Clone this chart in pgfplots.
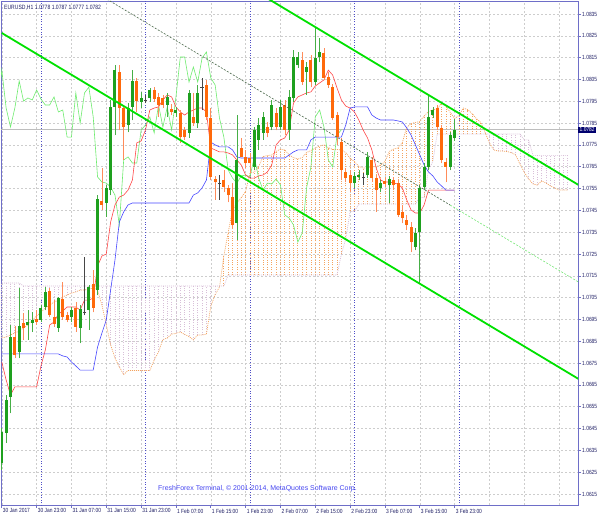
\documentclass[border=0pt]{standalone}
\usepackage{pgfplots}
\pgfplotsset{compat=1.18}
\usepackage{pgfplotstable}
\usepackage{fontspec}
\setmainfont{Liberation Sans}
\newfontfamily\narrowfont[FakeStretch=0.82]{Liberation Sans}
\definecolor{bull}{RGB}{30,160,30}
\definecolor{bullw}{RGB}{70,175,70}
\definecolor{bear}{RGB}{255,105,10}
\definecolor{bearw}{RGB}{255,140,90}
\definecolor{dojic}{RGB}{70,70,70}
\definecolor{tenkanc}{RGB}{255,70,70}
\definecolor{kijunc}{RGB}{70,70,255}
\definecolor{chikouc}{RGB}{110,235,110}
\definecolor{sandy}{RGB}{244,164,96}
\definecolor{thistlec}{RGB}{216,191,216}
\definecolor{chan}{RGB}{0,225,0}
\definecolor{midc}{RGB}{70,100,70}
\definecolor{midl}{RGB}{120,230,120}
\definecolor{framec}{RGB}{110,110,200}
\definecolor{gridc}{RGB}{205,205,205}
\definecolor{sepc}{RGB}{80,80,200}
\definecolor{txtc}{RGB}{30,30,100}
\definecolor{navyc}{RGB}{0,0,110}
\definecolor{bidc}{RGB}{190,190,190}
\definecolor{copyc}{RGB}{70,70,240}
\pgfplotsset{nomark/.style={only marks, mark=*, mark size=0pt, mark options={draw=none, fill=none}, forget plot}}

\pgfplotstableread{
i O H L C
0 1.06292 1.06453 1.06260 1.06434
1 1.06430 1.06604 1.06384 1.06581
2 1.06595 1.06925 1.06521 1.06870
3 1.06870 1.06920 1.06773 1.06787
4 1.06801 1.07094 1.06773 1.06920
5 1.06934 1.06980 1.06856 1.06911
6 1.06925 1.06993 1.06856 1.06938
7 1.06934 1.06984 1.06893 1.06948
8 1.06952 1.06993 1.06925 1.06938
9 1.06948 1.07016 1.06938 1.07003
10 1.07007 1.07099 1.06993 1.07076
11 1.07081 1.07094 1.06961 1.06970
12 1.06961 1.07039 1.06916 1.06929
13 1.06911 1.07053 1.06893 1.07048
14 1.07044 1.07122 1.06948 1.06961
15 1.06970 1.06984 1.06938 1.06948
16 1.06961 1.07007 1.06938 1.06993
17 1.07003 1.07030 1.06893 1.06916
18 1.06911 1.07016 1.06842 1.06998
19 1.06984 1.07236 1.06970 1.06984
20 1.06993 1.07108 1.06902 1.07099
21 1.07113 1.07177 1.06984 1.07003
22 1.07085 1.07520 1.07062 1.07502
23 1.07493 1.07644 1.07452 1.07475
24 1.07484 1.07566 1.07420 1.07553
25 1.07543 1.07956 1.07520 1.07924
26 1.07924 1.08116 1.07795 1.08093
27 1.08084 1.08116 1.07818 1.07919
28 1.07919 1.07933 1.07681 1.07832
29 1.07841 1.07942 1.07809 1.07919
30 1.07924 1.08093 1.07864 1.08043
31 1.08043 1.08057 1.07901 1.07951
32 1.07947 1.07993 1.07919 1.07965
33 1.07956 1.07979 1.07942 1.07956
34 1.07965 1.08011 1.07947 1.08002
35 1.08002 1.08015 1.07947 1.07960
36 1.07970 1.07988 1.07878 1.07933
37 1.07965 1.07979 1.07919 1.07933
38 1.07933 1.07988 1.07878 1.07970
39 1.07915 1.07938 1.07887 1.07901
40 1.07896 1.07924 1.07878 1.07910
41 1.07896 1.07910 1.07759 1.07786
42 1.07818 1.07832 1.07773 1.07786
43 1.07805 1.08002 1.07782 1.07988
44 1.07878 1.07988 1.07837 1.07850
45 1.07850 1.08025 1.07828 1.07988
46 1.08015 1.08057 1.07910 1.08015
47 1.08025 1.08048 1.07864 1.07878
48 1.07873 1.07919 1.07589 1.07603
49 1.07594 1.07608 1.07498 1.07580
50 1.07575 1.07612 1.07498 1.07575
51 1.07589 1.07635 1.07534 1.07557
52 1.07553 1.07566 1.07488 1.07520
53 1.07511 1.07575 1.07369 1.07383
54 1.07392 1.07887 1.07314 1.07681
55 1.07736 1.07782 1.07695 1.07695
56 1.07695 1.07727 1.07644 1.07667
57 1.07690 1.07713 1.07621 1.07667
58 1.07649 1.07832 1.07635 1.07818
59 1.07773 1.07873 1.07727 1.07841
60 1.07805 1.07901 1.07773 1.07878
61 1.07832 1.07855 1.07786 1.07805
62 1.07832 1.07956 1.07818 1.07933
63 1.07896 1.07919 1.07818 1.07832
64 1.07832 1.07956 1.07818 1.07924
65 1.07933 1.07956 1.07795 1.07818
66 1.07818 1.08002 1.07773 1.07970
67 1.07965 1.08185 1.07947 1.08153
68 1.08116 1.08176 1.08103 1.08153
69 1.08139 1.08176 1.08025 1.08038
70 1.08084 1.08130 1.07979 1.08107
71 1.08139 1.08162 1.08015 1.08038
72 1.08038 1.08286 1.08025 1.08148
73 1.08153 1.08240 1.08130 1.08176
74 1.08171 1.08194 1.08048 1.08057
75 1.08061 1.08084 1.08011 1.08025
76 1.08015 1.08029 1.07864 1.07873
77 1.07887 1.07901 1.07750 1.07786
78 1.07763 1.07782 1.07589 1.07635
79 1.07626 1.07644 1.07580 1.07598
80 1.07612 1.07635 1.07534 1.07575
81 1.07575 1.07626 1.07553 1.07608
82 1.07603 1.07635 1.07589 1.07612
83 1.07603 1.07621 1.07566 1.07603
84 1.07612 1.07718 1.07598 1.07695
85 1.07681 1.07695 1.07580 1.07598
86 1.07598 1.07612 1.07443 1.07543
87 1.07553 1.07589 1.07534 1.07575
88 1.07585 1.07598 1.07557 1.07571
89 1.07566 1.07608 1.07484 1.07594
90 1.07589 1.07603 1.07543 1.07566
91 1.07575 1.07589 1.07420 1.07429
92 1.07443 1.07475 1.07392 1.07415
93 1.07406 1.07429 1.07360 1.07383
94 1.07374 1.07397 1.07259 1.07305
95 1.07282 1.07369 1.07268 1.07346
96 1.07351 1.07566 1.07117 1.07553
97 1.07557 1.07667 1.07543 1.07649
98 1.07649 1.07979 1.07635 1.07878
99 1.07887 1.07924 1.07873 1.07910
100 1.07919 1.07933 1.07818 1.07832
101 1.07828 1.07841 1.07667 1.07681
102 1.07672 1.07690 1.07580 1.07649
103 1.07649 1.07809 1.07635 1.07795
104 1.07780 1.07870 1.07770 1.07820
}\candles

\pgfplotstableread{
i T K
0 1.06755 1.06792
1 1.06673 1.06792
2 1.06604 1.06792
3 1.06641 1.06792
4 1.06641 1.06792
5 1.06641 1.06792
6 1.06641 1.06792
7 1.06641 1.06792
8 1.06641 1.06792
9 1.06737 1.06792
10 1.06810 1.06792
11 1.06925 1.06792
12 1.06938 1.06792
13 1.06975 1.06792
14 1.06989 1.06783
15 1.07007 1.06778
16 1.07007 1.06755
17 1.07007 1.06737
18 1.06993 1.06718
19 1.07039 1.06718
20 1.07039 1.06718
21 1.07048 1.06718
22 1.07195 1.06824
23 1.07241 1.06888
24 1.07250 1.06948
25 1.07397 1.07085
26 1.07475 1.07223
27 1.07511 1.07397
28 1.07520 1.07443
29 1.07543 1.07475
30 1.07589 1.07484
31 1.07759 1.07484
32 1.07768 1.07484
33 1.07818 1.07484
34 1.07910 1.07484
35 1.07919 1.07484
36 1.07924 1.07484
37 1.07956 1.07484
38 1.07979 1.07484
39 1.07970 1.07484
40 1.07924 1.07484
41 1.07901 1.07484
42 1.07887 1.07484
43 1.07901 1.07484
44 1.07910 1.07520
45 1.07919 1.07530
46 1.07919 1.07553
47 1.07901 1.07589
48 1.07736 1.07763
49 1.07727 1.07750
50 1.07718 1.07741
51 1.07718 1.07741
52 1.07713 1.07741
53 1.07704 1.07727
54 1.07681 1.07695
55 1.07658 1.07690
56 1.07612 1.07690
57 1.07598 1.07690
58 1.07598 1.07690
59 1.07608 1.07690
60 1.07612 1.07690
61 1.07626 1.07690
62 1.07658 1.07690
63 1.07750 1.07690
64 1.07773 1.07690
65 1.07782 1.07690
66 1.07818 1.07704
67 1.07942 1.07718
68 1.07970 1.07727
69 1.07979 1.07727
70 1.07988 1.07727
71 1.07993 1.07773
72 1.08020 1.07786
73 1.08034 1.07786
74 1.08048 1.07786
75 1.08093 1.07786
76 1.08070 1.07786
77 1.08011 1.07786
78 1.07956 1.07786
79 1.07928 1.07841
80 1.07919 1.07919
81 1.07901 1.07924
82 1.07864 1.07924
83 1.07818 1.07924
84 1.07782 1.07924
85 1.07727 1.07887
86 1.07644 1.07873
87 1.07589 1.07864
88 1.07580 1.07864
89 1.07580 1.07864
90 1.07575 1.07864
91 1.07571 1.07860
92 1.07553 1.07855
93 1.07498 1.07828
94 1.07452 1.07795
95 1.07438 1.07750
96 1.07438 1.07704
97 1.07475 1.07658
98 1.07543 1.07626
99 1.07543 1.07608
100 1.07543 1.07580
101 1.07543 1.07562
102 1.07543 1.07543
103 1.07543 1.07543
104 1.07543 1.07543
}\lines

\pgfplotstableread{
i A B
0 1.06865 1.07117
1 1.06870 1.07117
2 1.06879 1.07117
3 1.06888 1.07117
4 1.06897 1.07117
5 1.06911 1.07103
6 1.06925 1.07103
7 1.06948 1.07103
8 1.06966 1.07103
9 1.06984 1.07103
10 1.07003 1.07103
11 1.07016 1.07103
12 1.07030 1.07103
13 1.07039 1.07103
14 1.07053 1.07103
15 1.07062 1.07103
16 1.07071 1.07103
17 1.07076 1.07103
18 1.07085 1.07103
19 1.07085 1.07103
20 1.07090 1.07103
21 1.07094 1.07103
22 1.07085 1.07103
23 1.07016 1.07103
24 1.06925 1.07103
25 1.06833 1.07103
26 1.06773 1.07103
27 1.06732 1.07103
28 1.06698 1.07103
29 1.06716 1.07103
30 1.06716 1.07103
31 1.06716 1.07103
32 1.06716 1.07103
33 1.06716 1.07103
34 1.06716 1.07103
35 1.06764 1.07103
36 1.06801 1.07103
37 1.06858 1.07103
38 1.06865 1.07103
39 1.06883 1.07103
40 1.06886 1.07103
41 1.06893 1.07103
42 1.06881 1.07103
43 1.06872 1.07103
44 1.06856 1.07103
45 1.06879 1.07103
46 1.06879 1.07103
47 1.06883 1.07103
48 1.07010 1.07103
49 1.07064 1.07103
50 1.07099 1.07103
51 1.07241 1.07103
52 1.07349 1.07154
53 1.07454 1.07154
54 1.07482 1.07154
55 1.07509 1.07154
56 1.07537 1.07154
57 1.07621 1.07154
58 1.07626 1.07154
59 1.07651 1.07154
60 1.07697 1.07154
61 1.07701 1.07154
62 1.07704 1.07154
63 1.07720 1.07154
64 1.07731 1.07154
65 1.07727 1.07154
66 1.07704 1.07154
67 1.07692 1.07154
68 1.07685 1.07154
69 1.07692 1.07154
70 1.07715 1.07154
71 1.07724 1.07154
72 1.07736 1.07154
73 1.07745 1.07154
74 1.07750 1.07154
75 1.07738 1.07154
76 1.07729 1.07154
77 1.07729 1.07154
78 1.07727 1.07250
79 1.07715 1.07319
80 1.07688 1.07445
81 1.07674 1.07445
82 1.07651 1.07479
83 1.07644 1.07479
84 1.07644 1.07479
85 1.07649 1.07479
86 1.07651 1.07479
87 1.07658 1.07479
88 1.07674 1.07479
89 1.07720 1.07479
90 1.07731 1.07479
91 1.07736 1.07479
92 1.07761 1.07479
93 1.07830 1.07479
94 1.07848 1.07479
95 1.07853 1.07479
96 1.07857 1.07509
97 1.07883 1.07509
98 1.07903 1.07635
99 1.07910 1.07674
100 1.07917 1.07800
101 1.07940 1.07800
102 1.07928 1.07800
103 1.07899 1.07800
104 1.07871 1.07800
105 1.07885 1.07800
106 1.07919 1.07800
107 1.07912 1.07800
108 1.07894 1.07800
109 1.07871 1.07800
110 1.07853 1.07800
111 1.07807 1.07800
112 1.07759 1.07800
113 1.07727 1.07800
114 1.07722 1.07800
115 1.07722 1.07800
116 1.07720 1.07800
117 1.07715 1.07800
118 1.07704 1.07800
119 1.07663 1.07800
120 1.07624 1.07773
121 1.07594 1.07773
122 1.07571 1.07702
123 1.07566 1.07702
124 1.07585 1.07702
125 1.07575 1.07702
126 1.07562 1.07702
127 1.07553 1.07702
128 1.07543 1.07702
129 1.07543 1.07702
130 1.07543 1.07702
}\cloud

\begin{document}
\begin{tikzpicture}
\useasboundingbox (0,0) rectangle (600bp,517bp);
\begin{axis}[
  at={(1bp,12bp)}, anchor=south west,
  width=577bp, height=504bp, scale only axis,
  xmin=-0.18, xmax=132.34, ymin=1.060997, ymax=1.084096,
  axis line style={draw=framec, line width=0.8bp},
  xtick={0,8,...,104},
  xticklabels={30 Jan 2017,30 Jan 23:00,31 Jan 07:00,31 Jan 15:00,31 Jan 23:00,1 Feb 07:00,1 Feb 15:00,1 Feb 23:00,2 Feb 07:00,2 Feb 15:00,2 Feb 23:00,3 Feb 07:00,3 Feb 15:00,3 Feb 23:00},
  xtick pos=bottom, ytick pos=right, yticklabel pos=right,
  tick align=outside, major tick length=3bp,
  tick style={draw=framec, line width=0.6bp},
  xticklabel style={anchor=north west, inner xsep=1bp, inner ysep=0.5bp, font=\narrowfont\fontsize{6}{6.5}\selectfont, text=txtc},
  yticklabel style={anchor=west, inner xsep=1bp, font=\narrowfont\fontsize{6}{6.5}\selectfont, text=txtc},
  ytick={1.0615,1.0625,1.0635,1.0645,1.0655,1.0665,1.0675,1.0685,1.0695,1.0705,1.0715,1.0725,1.0735,1.0745,1.0755,1.0765,1.0775,1.0785,1.0795,1.0805,1.0815,1.0825,1.0835},
  yticklabels={1.0615,1.0625,1.0635,1.0645,1.0655,1.0665,1.0675,1.0685,1.0695,1.0705,1.0715,1.0725,1.0735,1.0745,1.0755,1.0765,1.0775,1.0785,1.0795,1.0805,1.0815,1.0825,1.0835},
  grid=major, major grid style={draw=gridc, dash pattern=on 2bp off 2bp, line width=0.5bp},
  extra x ticks={112,120,128}, extra x tick labels={,,},
  extra x tick style={major tick length=0pt},
  extra y ticks={1.0782}, extra y tick labels={1.0782},
  extra y tick style={major grid style={draw=bidc, solid, line width=0.6bp}, major tick length=0pt,
     yticklabel style={fill=navyc, text=white, inner xsep=1.5bp, inner ysep=0.8bp}},
]
% day separators
\addplot[sepc, line width=0.7bp, dash pattern=on 1bp off 1.6bp, forget plot] coordinates {(9,1.0600) (9,1.0850)};
\addplot[sepc, line width=0.7bp, dash pattern=on 1bp off 1.6bp, forget plot] coordinates {(33,1.0600) (33,1.0850)};
\addplot[sepc, line width=0.7bp, dash pattern=on 1bp off 1.6bp, forget plot] coordinates {(57,1.0600) (57,1.0850)};
\addplot[sepc, line width=0.7bp, dash pattern=on 1bp off 1.6bp, forget plot] coordinates {(81,1.0600) (81,1.0850)};
\addplot[sepc, line width=0.7bp, dash pattern=on 1bp off 1.6bp, forget plot] coordinates {(105,1.0600) (105,1.0850)};
% cloud histogram
\addplot[nomark,
  restrict expr to domain={\thisrow{A}-\thisrow{B}}{0:1},
  error bars/.cd, y dir=plus, y explicit, error mark=none,
  error bar style={draw=sandy, line width=0.75bp, dash pattern=on 1bp off 1.4bp}]
  table[x=i, y expr={min(\thisrow{A},\thisrow{B})}, y error expr={abs(\thisrow{A}-\thisrow{B})}] {\cloud};
\addplot[nomark,
  restrict expr to domain={\thisrow{A}-\thisrow{B}}{-1:0},
  error bars/.cd, y dir=plus, y explicit, error mark=none,
  error bar style={draw=thistlec, line width=0.75bp, dash pattern=on 1bp off 1.4bp}]
  table[x=i, y expr={min(\thisrow{A},\thisrow{B})}, y error expr={abs(\thisrow{A}-\thisrow{B})}] {\cloud};
\addplot[sandy, line width=0.7bp, dash pattern=on 1bp off 1bp, forget plot] table[x=i, y=A] {\cloud};
\addplot[thistlec, line width=0.7bp, dash pattern=on 1bp off 1bp, forget plot] table[x=i, y=B] {\cloud};
% chikou, tenkan, kijun
\addplot[chikouc, line width=0.6bp, forget plot] table[x expr=\thisrow{i}-26, y=C] {\candles};
\addplot[tenkanc, line width=0.6bp, forget plot] table[x=i, y=T] {\lines};
\addplot[kijunc, line width=0.6bp, forget plot] table[x=i, y=K] {\lines};
% candles: wicks
\addplot[nomark,
  restrict expr to domain={\thisrow{C}-\thisrow{O}}{0.000001:1},
  error bars/.cd, y dir=plus, y explicit, error mark=none,
  error bar style={draw=bullw, line width=0.6bp}]
  table[x=i, y=L, y error expr={\thisrow{H}-\thisrow{L}}] {\candles};
\addplot[nomark,
  restrict expr to domain={\thisrow{O}-\thisrow{C}}{0.000001:1},
  error bars/.cd, y dir=plus, y explicit, error mark=none,
  error bar style={draw=bearw, line width=0.6bp}]
  table[x=i, y=L, y error expr={\thisrow{H}-\thisrow{L}}] {\candles};
\addplot[nomark,
  restrict expr to domain={\thisrow{O}-\thisrow{C}}{-0.000001:0.000001},
  error bars/.cd, y dir=plus, y explicit, error mark=none,
  error bar style={draw=dojic, line width=0.6bp}]
  table[x=i, y=L, y error expr={\thisrow{H}-\thisrow{L}}] {\candles};
\addplot[only marks, mark=-, mark size=1.6bp, mark options={dojic, line width=0.8bp}, forget plot,
  restrict expr to domain={\thisrow{O}-\thisrow{C}}{-0.000001:0.000001}]
  table[x=i, y=C] {\candles};
% candles: bodies
\addplot[nomark,
  restrict expr to domain={\thisrow{C}-\thisrow{O}}{0.000001:1},
  error bars/.cd, y dir=plus, y explicit, error mark=none,
  error bar style={draw=bull, line width=3bp}]
  table[x=i, y=O, y error expr={\thisrow{C}-\thisrow{O}}] {\candles};
\addplot[nomark,
  restrict expr to domain={\thisrow{O}-\thisrow{C}}{0.000001:1},
  error bars/.cd, y dir=plus, y explicit, error mark=none,
  error bar style={draw=bear, line width=3bp}]
  table[x=i, y=C, y error expr={\thisrow{O}-\thisrow{C}}] {\candles};
% channel lines
\addplot[chan, line width=1.8bp, forget plot] coordinates {(0,1.08263) (133,1.06671)};
\addplot[chan, line width=1.8bp, forget plot] coordinates {(0,1.09152) (133,1.07560)};
\addplot[midc, line width=0.6bp, dash pattern=on 2bp off 1.5bp, forget plot] coordinates {(0,1.08707) (103,1.07474)};
\addplot[midl, line width=0.6bp, dash pattern=on 2bp off 1.5bp, forget plot] coordinates {(103,1.07474) (133,1.07115)};
% texts
\node[anchor=base west, inner sep=0pt, font=\narrowfont\fontsize{6.2}{7}\selectfont, text=txtc] at (rel axis cs:0,1) [xshift=3bp, yshift=-9bp] {EURUSD,H1 1.0778 1.0787 1.0777 1.0782};
\node[anchor=base west, inner sep=0pt, font=\fontsize{7}{8}\selectfont, text=copyc] at (rel axis cs:0.2721,0.0278) {FreshForex Terminal, © 2001-2014, MetaQuotes Software Corp.};
\end{axis}
\end{tikzpicture}
\end{document}
